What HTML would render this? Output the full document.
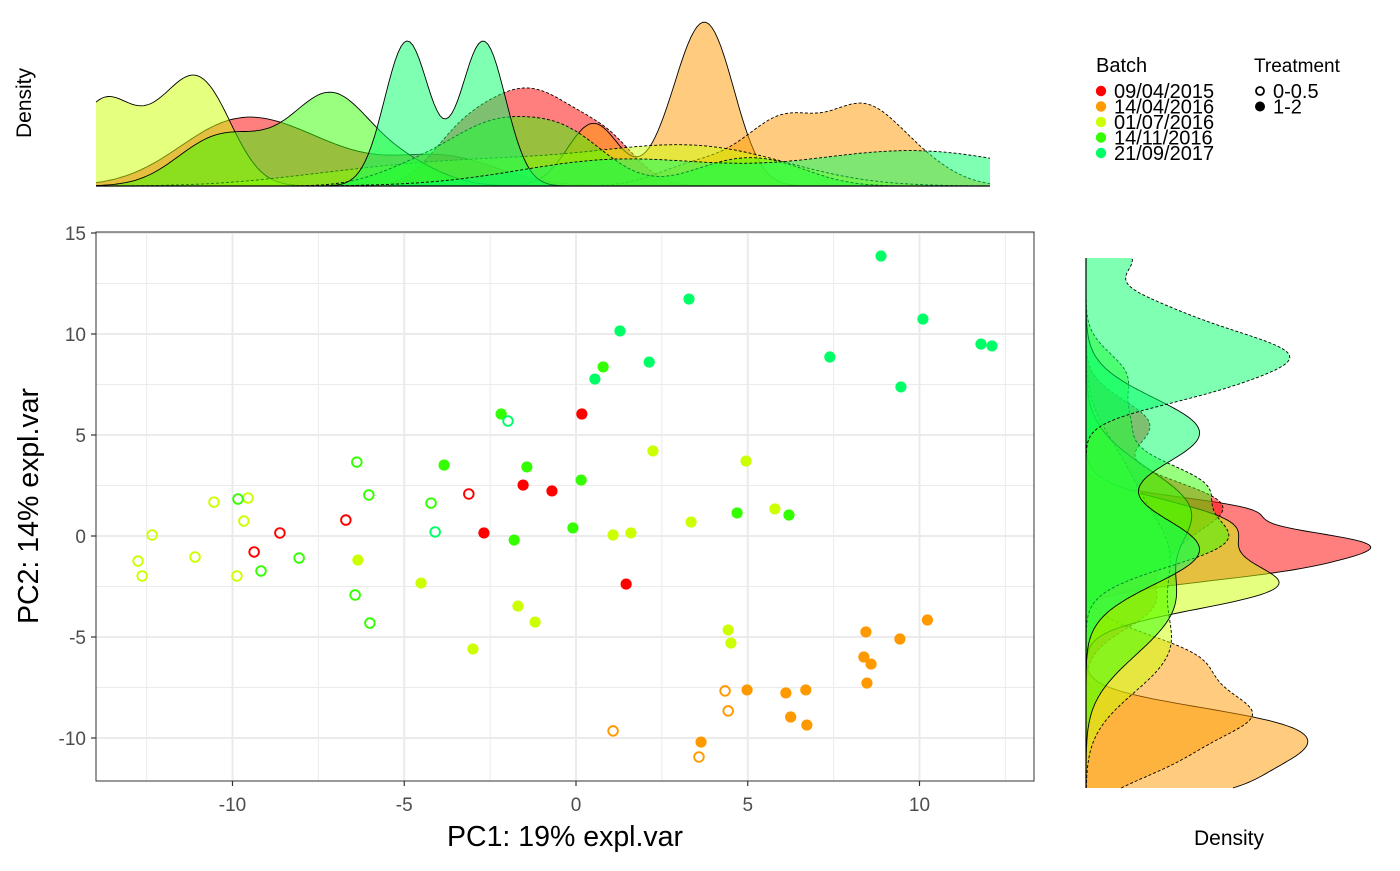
<!DOCTYPE html>
<html><head><meta charset="utf-8">
<style>
body{margin:0;background:#fff;font-family:"Liberation Sans",Arial,sans-serif;}
svg text{font-family:"Liberation Sans",Arial,sans-serif;}
</style></head>
<body>
<svg id="chart" width="1400" height="866" viewBox="0 0 1400 866" xmlns="http://www.w3.org/2000/svg">
<rect width="1400" height="866" fill="#fff"/>
<g id="main"></g>
<g id="topPanel"></g>
<g id="rightPanel"></g>
<g id="legend"></g>
</svg>
<script>
const batches = ["09/04/2015","14/04/2016","01/07/2016","14/11/2016","21/09/2017"];
const batchColors = ["#FF0000","#FF9900","#CCFF00","#33FF00","#00FF66"];
const treatments = ["0-0.5","1-2"];
const xTicks = [-10,-5,0,5,10];
const yTicks = [-10,-5,0,5,10,15];
// per-point data: PC1, PC2, batch index, treatment index (0 = open, 1 = filled)
const pc1 = [0.17,-1.54,-0.70,-2.68,1.46, -3.12,-6.70,-8.62,-9.37,
  8.44,10.23,9.43,8.38,8.59,8.47,4.98,6.11,6.69,6.25,6.72,3.64, 4.34,4.43,1.08,3.58,
  2.24,4.95,3.35,5.79,1.08,1.60,-6.35,-4.51,-1.69,-1.19,-3.00,4.43,4.51,
  -10.54,-9.55,-9.67,-12.34,-12.75,-12.63,-11.09,-9.87,
  -2.18,0.79,-3.84,-1.43,0.15,-1.80,-0.09,4.69,6.20,
  -9.84,-6.03,-9.17,-8.06,-6.43,-6.00,-6.38,-4.22,
  8.88,3.29,10.10,1.28,11.79,12.11,7.39,2.13,0.55,9.46, -1.98,-4.10];
const pc2 = [6.04,2.52,2.23,0.15,-2.38, 2.08,0.79,0.15,-0.79,
  -4.75,-4.16,-5.10,-5.99,-6.34,-7.28,-7.62,-7.77,-7.62,-8.96,-9.36,-10.20, -7.67,-8.66,-9.65,-10.94,
  4.21,3.71,0.69,1.34,0.05,0.15,-1.19,-2.33,-3.47,-4.26,-5.59,-4.65,-5.30,
  1.68,1.88,0.74,0.05,-1.24,-1.98,-1.04,-1.98,
  6.04,8.37,3.51,3.42,2.77,-0.20,0.40,1.14,1.04,
  1.83,2.03,-1.73,-1.09,-2.92,-4.31,3.66,1.63,
  13.86,11.73,10.74,10.15,9.50,9.41,8.86,8.61,7.77,7.38, 5.69,0.20];
const batchIdx = [0,0,0,0,0, 0,0,0,0,
  1,1,1,1,1,1,1,1,1,1,1,1, 1,1,1,1,
  2,2,2,2,2,2,2,2,2,2,2,2,2,
  2,2,2,2,2,2,2,2,
  3,3,3,3,3,3,3,3,3,
  3,3,3,3,3,3,3,3,
  4,4,4,4,4,4,4,4,4,4, 4,4];
const treatIdx = [1,1,1,1,1, 0,0,0,0,
  1,1,1,1,1,1,1,1,1,1,1,1, 0,0,0,0,
  1,1,1,1,1,1,1,1,1,1,1,1,1,
  0,0,0,0,0,0,0,0,
  1,1,1,1,1,1,1,1,1,
  0,0,0,0,0,0,0,0,
  1,1,1,1,1,1,1,1,1,1, 0,0];

const NS="http://www.w3.org/2000/svg";
function mk(parent,tag,attrs,text){const e=document.createElementNS(NS,tag);for(const k in attrs)e.setAttribute(k,attrs[k]);if(text!==undefined)e.textContent=text;parent.appendChild(e);return e;}

const PL=96,PR=1034,PT=232,PB=781;
const sx=v=>576+v*34.35;
const sy=v=>536-v*20.2;
const mainG=document.getElementById('main');
mk(mainG,'rect',{x:PL,y:PT,width:PR-PL,height:PB-PT,fill:'#fff'});
for(let v=-12.5;v<=12.5;v+=5){const l=mk(mainG,'line',{x1:sx(v),x2:sx(v),y1:PT,y2:PB,stroke:'#ebebeb','stroke-width':1});

}
for(let v=-7.5;v<=12.5;v+=5){const l=mk(mainG,'line',{x1:PL,x2:PR,y1:sy(v),y2:sy(v),stroke:'#ebebeb','stroke-width':1});

}
xTicks.forEach(v=>{const l=mk(mainG,'line',{x1:sx(v),x2:sx(v),y1:PT,y2:PB,stroke:'#ebebeb','stroke-width':2});


mk(mainG,'line',{x1:sx(v),x2:sx(v),y1:PB,y2:PB+5,stroke:'#333','stroke-width':1.2});
const tl=mk(mainG,'text',{x:sx(v),y:PB+30,'text-anchor':'middle','font-size':19,fill:'#4d4d4d'},String(v));

});
yTicks.forEach(v=>{const l=mk(mainG,'line',{x1:PL,x2:PR,y1:sy(v),y2:sy(v),stroke:'#ebebeb','stroke-width':2});


mk(mainG,'line',{x1:PL-5,x2:PL,y1:sy(v),y2:sy(v),stroke:'#333','stroke-width':1.2});
const tl=mk(mainG,'text',{x:PL-10,y:sy(v)+7,'text-anchor':'end','font-size':19,fill:'#4d4d4d'},String(v));

});
mk(mainG,'rect',{x:PL,y:PT,width:PR-PL,height:PB-PT,fill:'none',stroke:'#333','stroke-width':1});
for(let i=0;i<pc1.length;i++){
  const c=batchColors[batchIdx[i]];
  const open=treatIdx[i]===0;
  const p=mk(mainG,'circle',{cx:sx(pc1[i]),cy:sy(pc2[i]),r:open?4.8:5.6,fill:open?'none':c,stroke:c,'stroke-width':open?1.9:0});
  
  
}
let tt=mk(mainG,'text',{x:565,y:846,'text-anchor':'middle','font-size':28.5,fill:'#000'},'PC1: 19% expl.var');


tt=mk(mainG,'text',{x:0,y:0,'text-anchor':'middle','font-size':28.5,fill:'#000',transform:'translate(38,506) rotate(-90)'},'PC2: 14% expl.var');



function quant(s,p){const h=(s.length-1)*p,lo=Math.floor(h);return s[lo]+(h-lo)*((s[Math.min(lo+1,s.length-1)])-s[lo]);}
function bwNrd0(a){const n=a.length,m=a.reduce((x,y)=>x+y,0)/n;const sd=Math.sqrt(a.reduce((s,v)=>s+(v-m)*(v-m),0)/(n-1));
 const s=[...a].sort((x,y)=>x-y);const iqr=(quant(s,0.75)-quant(s,0.25))/1.34;let lo=Math.min(sd,iqr);if(!(lo>0))lo=sd||1;return 0.9*lo*Math.pow(n,-0.2);}
function kde(a,lo,hi,N){const bw=bwNrd0(a),out=[];for(let k=0;k<N;k++){const x=lo+(hi-lo)*k/(N-1);let s=0;a.forEach(v=>{const z=(x-v)/bw;s+=Math.exp(-0.5*z*z);});out.push([x,s/(a.length*bw*Math.sqrt(2*Math.PI))]);}return out;}

const groups=[];
for(let b=0;b<batches.length;b++)for(let tr=0;tr<treatments.length;tr++){
  const xs=[],ys=[];for(let i=0;i<pc1.length;i++)if(batchIdx[i]===b&&treatIdx[i]===tr){xs.push(pc1[i]);ys.push(pc2[i]);}
  if(xs.length>1)groups.push({b,tr,xs,ys});
}
const xmin=Math.min(...pc1),xmax=Math.max(...pc1),ymin=Math.min(...pc2),ymax=Math.max(...pc2);
groups.forEach(g=>{g.dx=kde(g.xs,xmin,xmax,300);g.dy=kde(g.ys,ymin,ymax,300);});
const maxDx=Math.max(...groups.map(g=>Math.max(...g.dx.map(p=>p[1]))));
const maxDy=Math.max(...groups.map(g=>Math.max(...g.dy.map(p=>p[1]))));

const topG=document.getElementById('topPanel');
const tx=v=>96+(v-xmin)/(xmax-xmin)*894;
const tBase=186,tH=172;
groups.forEach(g=>{
  let c='';
  g.dx.forEach((p,k)=>{c+=(k?' L':'M')+tx(p[0]).toFixed(1)+','+(tBase-p[1]/(maxDx*1.05)*tH).toFixed(1);});
  const f=mk(topG,'path',{d:c+' L'+tx(xmax)+','+tBase+' L'+tx(xmin)+','+tBase+' Z',fill:batchColors[g.b],'fill-opacity':0.5,stroke:'none'});
  
  
  const e=mk(topG,'path',{d:c,fill:'none',stroke:'#000','stroke-width':0.9,'stroke-dasharray':g.tr===1?'3,2':'none'});
  
  
});
mk(topG,'line',{x1:96,x2:990,y1:tBase,y2:tBase,stroke:'#000','stroke-width':1.2});
tt=mk(topG,'text',{x:0,y:0,'text-anchor':'middle','font-size':21,fill:'#000',transform:'translate(31,103) rotate(-90)'},'Density');



const rightG=document.getElementById('rightPanel');
const ry=v=>258+(ymax-v)/(ymax-ymin)*530;
const rBase=1086,rW=299;
groups.forEach(g=>{
  let c='';
  g.dy.forEach((p,k)=>{c+=(k?' L':'M')+(rBase+p[1]/(maxDy*1.05)*rW).toFixed(1)+','+ry(p[0]).toFixed(1);});
  const f=mk(rightG,'path',{d:c+' L'+rBase+','+ry(ymax)+' L'+rBase+','+ry(ymin)+' Z',fill:batchColors[g.b],'fill-opacity':0.5,stroke:'none'});
  
  
  const e=mk(rightG,'path',{d:c,fill:'none',stroke:'#000','stroke-width':0.9,'stroke-dasharray':g.tr===1?'3,2':'none'});
  
  
});
mk(rightG,'line',{x1:rBase,x2:rBase,y1:258,y2:788,stroke:'#000','stroke-width':1.2});
tt=mk(rightG,'text',{x:1229,y:845,'text-anchor':'middle','font-size':21,fill:'#000'},'Density');



const lg=document.getElementById('legend');
tt=mk(lg,'text',{x:1096,y:72,'font-size':20,fill:'#000'},'Batch');


batches.forEach((b,i)=>{
  const y=91+i*15.5;
  const c=mk(lg,'circle',{cx:1101,cy:y,r:5.2,fill:batchColors[i]});
  
  
  const l=mk(lg,'text',{x:1114,y:y+7,'font-size':20,fill:'#000'},b);
  
  
});
tt=mk(lg,'text',{x:1254,y:72,'font-size':19,fill:'#000'},'Treatment');


treatments.forEach((tr,i)=>{
  const y=91+i*15.5;
  const c=mk(lg,'circle',{cx:1260,cy:y,r:i===0?4:5,fill:i===0?'none':'#000',stroke:'#000','stroke-width':i===0?1.8:0});
  
  
  const l=mk(lg,'text',{x:1273,y:y+7,'font-size':20,fill:'#000'},tr);
  
  
});
</script>
</body></html>
